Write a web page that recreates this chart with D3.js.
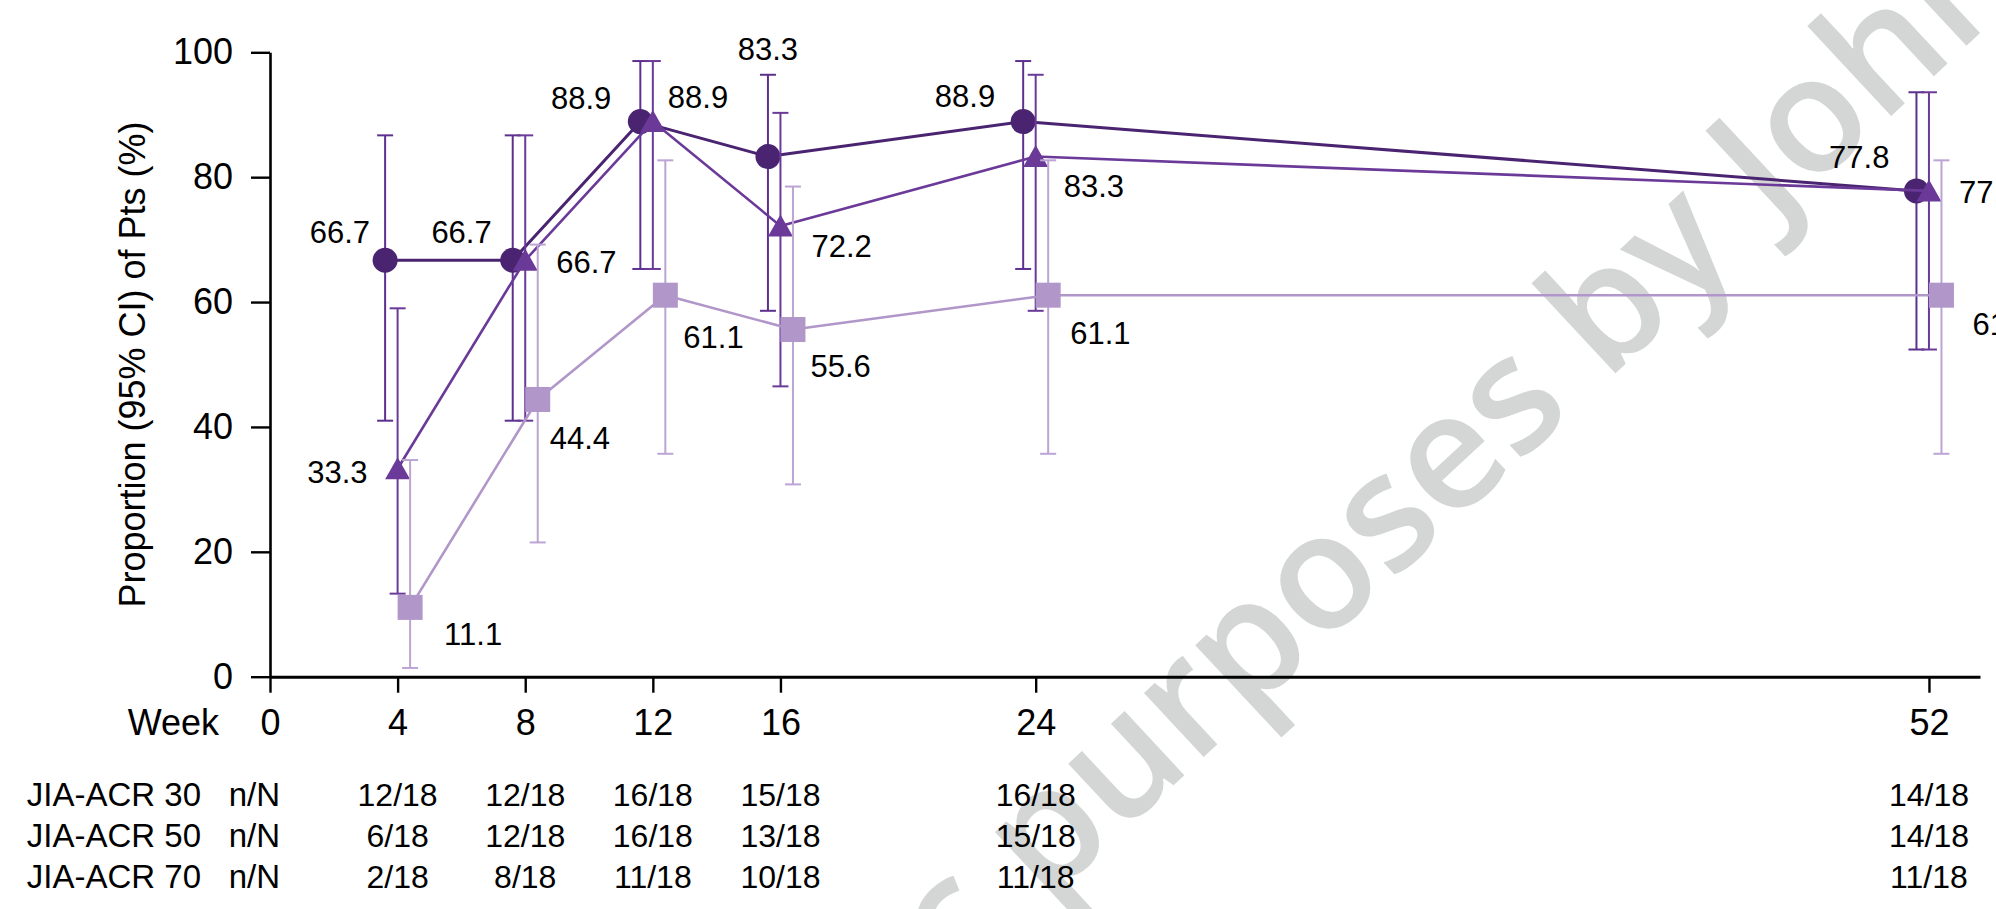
<!DOCTYPE html>
<html>
<head>
<meta charset="utf-8">
<script src="https://cdn.jsdelivr.net/npm/d3@7"></script>
<style>
  html, body { margin: 0; padding: 0; background: #fff; }
  svg { display: block; }
  text { font-family: "Liberation Sans", Arial, Helvetica, sans-serif; fill: #000; }
</style>
</head>
<body>
<svg id="chart" width="1996" height="909"></svg>
<script>
// Visit weeks and response rates (%) with 95% CI bounds
const weeks = [4, 8, 12, 16, 24, 52];
const xTicks = [0, 4, 8, 12, 16, 24, 52];
const yTicks = [0, 20, 40, 60, 80, 100];

const acr30   = [66.7, 66.7, 88.9, 83.3, 88.9, 77.8];
const acr30Lo = [41.0, 41.0, 65.3, 58.6, 65.3, 52.4];
const acr30Hi = [86.7, 86.7, 98.6, 96.4, 98.6, 93.6];

const acr50   = [33.3, 66.7, 88.9, 72.2, 83.3, 77.8];
const acr50Lo = [13.3, 41.0, 65.3, 46.5, 58.6, 52.4];
const acr50Hi = [59.0, 86.7, 98.6, 90.3, 96.4, 93.6];

const acr70   = [11.1, 44.4, 61.1, 55.6, 61.1, 61.1];
const acr70Lo = [1.4, 21.5, 35.7, 30.8, 35.7, 35.7];
const acr70Hi = [34.7, 69.2, 82.7, 78.5, 82.7, 82.7];

// Responders / patients at each visit
const rowLabels = ["JIA-ACR 30", "JIA-ACR 50", "JIA-ACR 70"];
const acr30N = ["12/18", "12/18", "16/18", "15/18", "16/18", "14/18"];
const acr50N = ["6/18", "12/18", "16/18", "13/18", "15/18", "14/18"];
const acr70N = ["2/18", "8/18", "11/18", "10/18", "11/18", "11/18"];

// Value-label offsets from each marker: [dx, dy, anchor]
const placeAcr30 = [[-15,-17,"end"],[-21,-17,"end"],[-29,-13,"end"],[0,-97,"middle"],[-28,-15,"end"],[-27,-23,"end"]];
const placeAcr50 = [[-30,14,"end"],[31,13,"start"],[15,-14,"start"],[31,31,"start"],[28,40,"start"],[30,12,"start"]];
const placeAcr70 = [[34,38,"start"],[12,50,"start"],[18,53,"start"],[17.5,47.5,"start"],[22,49,"start"],[31,40,"start"]];

const svg = d3.select("#chart");

const x = d3.scaleLinear().domain([0, 53.6]).range([270, 1980]);
const y = d3.scaleLinear().domain([0, 100]).range([676.7, 52.3]);

// Background watermark
const wm = svg.append("g")
  .attr("transform", "translate(1045,905) rotate(-43)");
wm.append("text").attr("x", 0).attr("text-anchor", "start")
  .style("font-family", "'Open Sans', sans-serif").style("font-size", "162px")
  .style("font-weight", 600).style("fill", "#d4d6d6")
  .text("purposes by Johnson & Johnson");
wm.append("text").attr("x", -42).attr("text-anchor", "end")
  .style("font-family", "'Open Sans', sans-serif").style("font-size", "162px")
  .style("font-weight", 600).style("fill", "#d4d6d6")
  .text("For scientific");

// Axes
const yAxis = svg.append("g")
  .attr("transform", `translate(${x(0)},0)`)
  .call(d3.axisLeft(y).tickValues(yTicks).tickSize(19).tickPadding(18).tickSizeOuter(0));
yAxis.select(".domain").attr("stroke", "#000").attr("stroke-width", 2.6);
yAxis.selectAll(".tick line").attr("stroke", "#000").attr("stroke-width", 2.4);
yAxis.selectAll(".tick text").style("font-size", "36px").attr("fill", "#000");

const xAxis = svg.append("g")
  .attr("transform", `translate(0,${y(0)})`)
  .call(d3.axisBottom(x).tickValues(xTicks).tickSize(16).tickPadding(17).tickSizeOuter(0));
xAxis.select(".domain").attr("stroke", "#000").attr("stroke-width", 3);
xAxis.selectAll(".tick line").attr("stroke", "#000").attr("stroke-width", 2.4);
xAxis.selectAll(".tick text").style("font-size", "36px").attr("fill", "#000");

svg.append("text")
  .attr("x", 219).attr("y", 735)
  .attr("text-anchor", "end")
  .style("font-size", "36px")
  .text("Week");

svg.append("text")
  .attr("transform", `translate(145,${(y(0) + y(100)) / 2}) rotate(-90)`)
  .attr("text-anchor", "middle")
  .style("font-size", "36px")
  .text("Proportion (95% CI) of Pts (%)");

// Series
const series = [
  { vals: acr30, lo: acr30Lo, hi: acr30Hi, place: placeAcr30, shape: "circle",
    color: "#4a2470", bar: "#5d3090", lineW: 3, dodge: -12.5 },
  { vals: acr50, lo: acr50Lo, hi: acr50Hi, place: placeAcr50, shape: "triangle",
    color: "#6b3a99", bar: "#6b3a99", lineW: 2.6, dodge: 0 },
  { vals: acr70, lo: acr70Lo, hi: acr70Hi, place: placeAcr70, shape: "square",
    color: "#b196c9", bar: "#bca4d4", lineW: 2.6, dodge: 12.5 }
];

const capHalf = 8;

series.forEach(s => {
  const pts = weeks.map((w, i) => ({ cx: x(w) + s.dodge, v: s.vals[i], lo: s.lo[i], hi: s.hi[i], p: s.place[i] }));
  const g = svg.append("g");

  // 95% CI whiskers
  const eb = g.append("g").attr("stroke", s.bar).attr("stroke-width", 2).attr("fill", "none");
  pts.forEach(d => {
    eb.append("line").attr("x1", d.cx).attr("x2", d.cx).attr("y1", y(d.lo)).attr("y2", y(d.hi));
    eb.append("line").attr("x1", d.cx - capHalf).attr("x2", d.cx + capHalf).attr("y1", y(d.lo)).attr("y2", y(d.lo));
    eb.append("line").attr("x1", d.cx - capHalf).attr("x2", d.cx + capHalf).attr("y1", y(d.hi)).attr("y2", y(d.hi));
  });

  // Connecting line
  g.append("path")
    .datum(pts)
    .attr("fill", "none")
    .attr("stroke", s.color)
    .attr("stroke-width", s.lineW)
    .attr("stroke-linejoin", "round")
    .attr("d", d3.line().x(d => d.cx).y(d => y(d.v)));

  // Markers
  pts.forEach(d => {
    const cy = y(d.v);
    if (s.shape === "circle") {
      g.append("circle").attr("cx", d.cx).attr("cy", cy).attr("r", 12.5).attr("fill", s.color);
    } else if (s.shape === "triangle") {
      g.append("path")
        .attr("d", `M${d.cx},${cy - 11.5}L${d.cx + 12.5},${cy + 10.5}L${d.cx - 12.5},${cy + 10.5}Z`)
        .attr("fill", s.color);
    } else {
      g.append("rect").attr("x", d.cx - 12.5).attr("y", cy - 12.5)
        .attr("width", 25).attr("height", 25).attr("fill", s.color);
    }
  });

  // Value labels
  pts.forEach(d => {
    g.append("text")
      .attr("x", d.cx + d.p[0])
      .attr("y", y(d.v) + d.p[1])
      .attr("text-anchor", d.p[2])
      .style("font-size", "31px")
      .text(d3.format(".1f")(d.v));
  });
});

// n/N table below the axis
const rowY = [806, 847, 888];
const counts = [acr30N, acr50N, acr70N];
counts.forEach((row, r) => {
  svg.append("text").attr("x", 201).attr("y", rowY[r]).attr("text-anchor", "end")
    .style("font-size", "33px").text(rowLabels[r]);
  svg.append("text").attr("x", 280).attr("y", rowY[r]).attr("text-anchor", "end")
    .style("font-size", "33px").text("n/N");
  row.forEach((t, i) => {
    svg.append("text").attr("x", x(weeks[i])).attr("y", rowY[r]).attr("text-anchor", "middle")
      .style("font-size", "32px").text(t);
  });
});
</script>
</body>
</html>
